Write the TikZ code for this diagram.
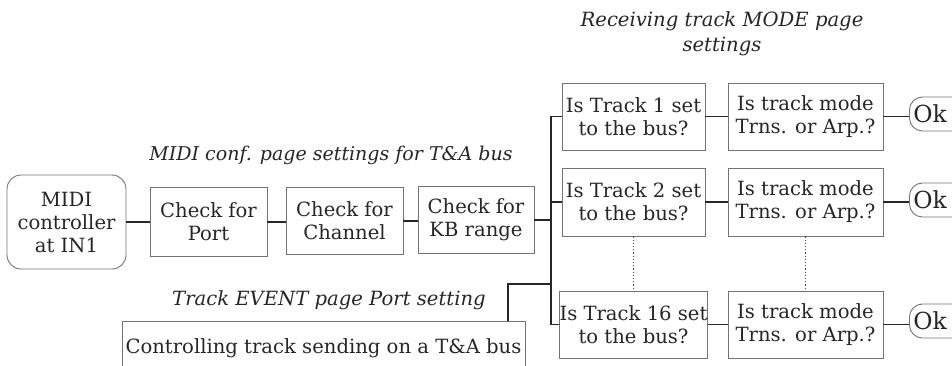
\documentclass[tikz,border=0pt]{standalone}
\usepackage{fontspec}
\setmainfont{DejaVu Serif}
\begin{document}
\begin{tikzpicture}[x=1pt,y=-1pt,
  every node/.style={text=black!85, font=\fontsize{19.6}{23}\selectfont},
  box/.style={draw=black!55, line width=0.9pt, align=center, inner sep=0pt},
  rbox/.style={box, rounded corners=14pt},
  okbox/.style={box, rounded corners=13pt, anchor=west, inner xsep=4pt, minimum height=34pt,
    font=\fontsize{23.5}{26}\selectfont},
  lbl/.style={font=\fontsize{19.6}{25}\selectfont\itshape, align=center},
  conn/.style={draw=black!85, line width=1.6pt},
  dots/.style={draw=black!70, line width=1.2pt, dotted}]
\useasboundingbox (0,0) rectangle (952,365);
% left chain
\node[rbox, minimum width=119pt, minimum height=94pt] (midi) at (66.5,222) {MIDI\\controller\\at IN1};
\node[box, minimum width=117pt, minimum height=69pt] (port) at (208.5,222) {Check for\\Port};
\node[box, minimum width=117pt, minimum height=67pt] (chan) at (344.5,221) {Check for\\Channel};
\node[box, minimum width=116pt, minimum height=67pt] (kb) at (476,220) {Check for\\KB range};
\node[lbl, font=\fontsize{19}{25}\selectfont\itshape] (l1) at (331,155) {MIDI conf. page settings for T\&A bus};
% right columns
\node[box, minimum width=143pt, minimum height=67pt] (t1) at (633.5,116.5) {Is Track 1 set\\to the bus?};
\node[box, minimum width=143pt, minimum height=68pt] (t2) at (633.5,202) {Is Track 2 set\\to the bus?};
\node[box, minimum width=143pt, minimum height=67pt] (t16) at (633.5,324.5) {Is Track 16 set\\to the bus?};
\node[box, minimum width=155pt, minimum height=67pt] (m1) at (805.5,116.5) {Is track mode\\Trns. or Arp.?};
\node[box, minimum width=155pt, minimum height=68pt] (m2) at (805.5,202) {Is track mode\\Trns. or Arp.?};
\node[box, minimum width=155pt, minimum height=67pt] (m16) at (805.5,324.5) {Is track mode\\Trns. or Arp.?};
\node[okbox] (ok1) at (909,114) {Ok\hspace*{20pt}};
\node[okbox] (ok2) at (909,200) {Ok\hspace*{20pt}};
\node[okbox] (ok16) at (909,321) {Ok\hspace*{20pt}};
\node[lbl] (l3) at (722,34) {Receiving track MODE page\\settings};
% bottom
\node[box, minimum width=403pt, minimum height=54pt] (ctl) at (323.5,348) {Controlling track sending on a T\&A bus};
\node[lbl] (l2) at (329,300) {Track EVENT page Port setting};
% connectors
\coordinate (bus) at (551,0);
\coordinate (cj) at (508,284);
\draw[conn] (midi.east) -- (midi.east -| port.west);
\draw[conn] (port.east) -- (port.east -| chan.west);
\draw[conn] (chan.east) -- (chan.east -| kb.west);
\draw[conn] (kb.east) -- (kb.east -| bus);
\draw[conn] (t1.west) -| (bus |- t16.west) -- (t16.west);
\draw[conn] (t2.west) -- (t2.west -| bus);
\draw[conn] (ctl.north -| cj) -- (cj) -- (cj -| bus);
\draw[conn] (t1.east) -- (m1.west);
\draw[conn] (t2.east) -- (m2.west);
\draw[conn] (t16.east) -- (m16.west);
\draw[conn] (m1.east) -- (m1.east -| ok1.west);
\draw[conn] (m2.east) -- (m2.east -| ok2.west);
\draw[conn] (m16.east) -- (m16.east -| ok16.west);
\draw[dots] (t2.south) -- (t16.north);
\draw[dots] (m2.south) -- (m16.north);
\end{tikzpicture}
\end{document}
